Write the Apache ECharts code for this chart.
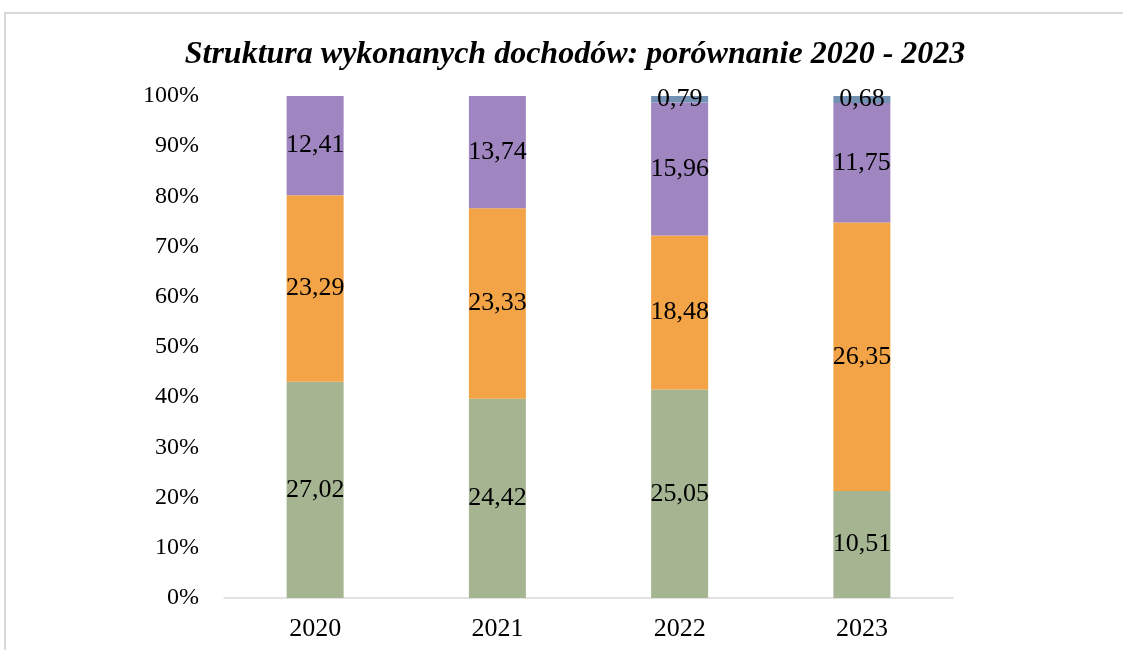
<!DOCTYPE html>
<html>
<head>
<meta charset="utf-8">
<script src="https://cdn.jsdelivr.net/npm/echarts@6/dist/echarts.min.js"></script>
<style>
  body { margin: 0; background: #fff; }
  #frame { position: absolute; left: 4px; top: 12px; width: 1130px; height: 650px;
           border-top: 2px solid #d9d9d9; border-left: 2px solid #d9d9d9; }
  #chart { position: absolute; left: 0; top: 0; width: 1123px; height: 650px; }
</style>
</head>
<body>
<div id="frame"></div>
<div id="chart"></div>
<script>
  // dane
  var years = ['2020', '2021', '2022', '2023']
  var dochodyWlasne = [27.02, 24.42, 25.05, 10.51]
  var dotacje = [23.29, 23.33, 18.48, 26.35]
  var subwencje = [12.41, 13.74, 15.96, 11.75]
  var srodkiUE = [0, 0, 0.79, 0.68]
  var yTicks = [0, 10, 20, 30, 40, 50, 60, 70, 80, 90, 100]

  var raw = [dochodyWlasne, dotacje, subwencje, srodkiUE]
  var names = ['Dochody własne', 'Dotacje', 'Subwencja', 'Środki zewnętrzne']
  var colors = ['#a5b592', '#f3a447', '#9f86c0', '#7391b3']

  var totals = years.map(function (y, i) {
    return raw.reduce(function (s, arr) { return s + arr[i] }, 0)
  })

  var myChart = echarts.init(document.getElementById('chart'))

  var series = raw.map(function (arr, k) {
    return {
      name: names[k],
      type: 'bar',
      stack: 'total',
      barWidth: 57,
      itemStyle: { color: colors[k] },
      label: {
        show: true,
        position: 'inside',
        color: '#000',
        fontFamily: 'Liberation Serif',
        fontSize: 26,
        formatter: function (p) {
          var v = arr[p.dataIndex]
          if (!v) return ''
          return v.toFixed(2).replace('.', ',')
        }
      },
      data: arr.map(function (v, i) { return v / totals[i] * 100 })
    }
  })

  var option = {
    animation: false,
    title: {
      left: 570,
      textAlign: 'center',
      top: 34,
      text: 'Struktura wykonanych dochodów: porównanie 2020 - 2023',
      textStyle: {
        color: '#000',
        fontFamily: 'Liberation Serif',
        fontStyle: 'italic',
        fontWeight: 'bold',
        fontSize: 32
      }
    },
    grid: { left: 224, right: 170, top: 96, bottom: 52 },
    xAxis: {
      type: 'category',
      data: years,
      axisLine: { lineStyle: { color: '#d9d9d9', width: 1.5 } },
      axisTick: { show: false },
      axisLabel: {
        color: '#000',
        fontFamily: 'Liberation Serif',
        fontSize: 26,
        margin: 18
      }
    },
    yAxis: {
      type: 'value',
      min: yTicks[0],
      max: yTicks[yTicks.length - 1],
      interval: 10,
      splitLine: { show: false },
      axisLine: { show: false },
      axisTick: { show: false },
      axisLabel: {
        color: '#000',
        fontFamily: 'Liberation Serif',
        fontSize: 24,
        margin: 25,
        formatter: '{value}%'
      }
    },
    series: series
  }

  myChart.setOption(option)
</script>
</body>
</html>
